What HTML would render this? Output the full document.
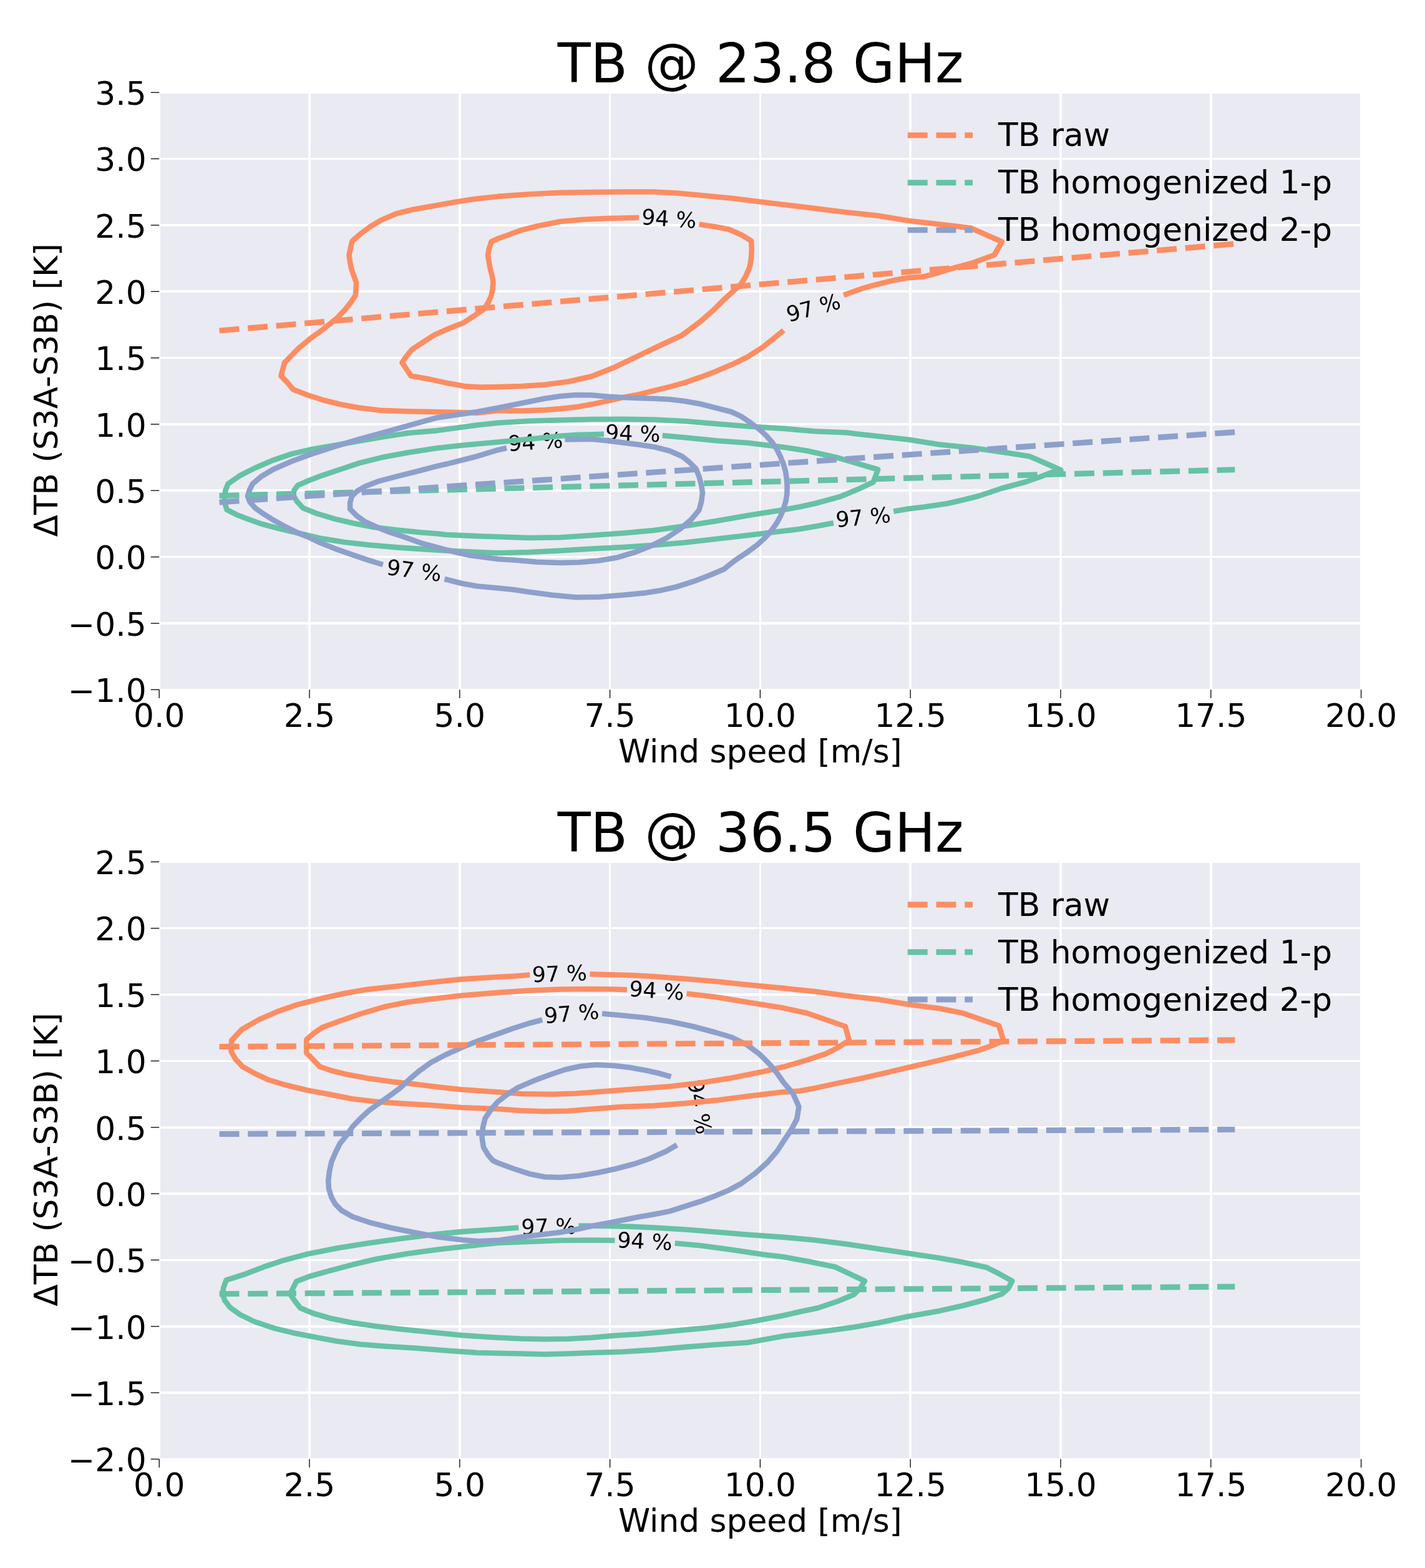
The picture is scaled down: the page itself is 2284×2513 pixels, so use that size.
<!DOCTYPE html>
<html lang="en">
<head>
<meta charset="utf-8">
<title>TB vs wind speed</title>
<style>
html,body{margin:0;padding:0;background:#fff;}
body{width:2284px;height:2513px;overflow:hidden;}
svg{display:block;}
text{font-family:"DejaVu Sans","Liberation Sans",sans-serif;fill:#000;}
.t{font-size:51.8px;}
.h{font-size:86.7px;letter-spacing:-0.15px;}
.c{font-size:34.7px;}
.ct{fill:none;stroke-width:8.60;stroke-linejoin:round;stroke-linecap:butt;}
.d{fill:none;stroke-width:9.10;stroke-dasharray:31.9 13.8;}
.g{stroke:#fff;stroke-width:3.50;shape-rendering:crispEdges;}
.k{stroke:#000;stroke-width:1.3;}
</style>
</head>
<body>
<svg xmlns="http://www.w3.org/2000/svg" width="2284" height="2513" viewBox="0 0 2284 2513">
<rect x="0" y="0" width="2284" height="2513" fill="#fff"/>
<g id="plot1">
<rect x="255.2" y="148.2" width="1926.3" height="957.1" fill="#eaeaf2"/>
<line class="g" x1="255.2" y1="148.2" x2="255.2" y2="1105.3"/>
<line class="g" x1="496.0" y1="148.2" x2="496.0" y2="1105.3"/>
<line class="g" x1="736.8" y1="148.2" x2="736.8" y2="1105.3"/>
<line class="g" x1="977.6" y1="148.2" x2="977.6" y2="1105.3"/>
<line class="g" x1="1218.4" y1="148.2" x2="1218.4" y2="1105.3"/>
<line class="g" x1="1459.2" y1="148.2" x2="1459.2" y2="1105.3"/>
<line class="g" x1="1700.0" y1="148.2" x2="1700.0" y2="1105.3"/>
<line class="g" x1="1940.8" y1="148.2" x2="1940.8" y2="1105.3"/>
<line class="g" x1="2181.6" y1="148.2" x2="2181.6" y2="1105.3"/>
<line class="g" x1="255.2" y1="1105.3" x2="2181.6" y2="1105.3"/>
<line class="g" x1="255.2" y1="999.0" x2="2181.6" y2="999.0"/>
<line class="g" x1="255.2" y1="892.6" x2="2181.6" y2="892.6"/>
<line class="g" x1="255.2" y1="786.2" x2="2181.6" y2="786.2"/>
<line class="g" x1="255.2" y1="679.9" x2="2181.6" y2="679.9"/>
<line class="g" x1="255.2" y1="573.6" x2="2181.6" y2="573.6"/>
<line class="g" x1="255.2" y1="467.2" x2="2181.6" y2="467.2"/>
<line class="g" x1="255.2" y1="360.9" x2="2181.6" y2="360.9"/>
<line class="g" x1="255.2" y1="254.5" x2="2181.6" y2="254.5"/>
<line class="g" x1="255.2" y1="148.2" x2="2181.6" y2="148.2"/>
<line class="k" x1="255.2" y1="1105.3" x2="255.2" y2="1118.9"/>
<text class="t" x="255.2" y="1164.5" text-anchor="middle">0.0</text>
<line class="k" x1="496.0" y1="1105.3" x2="496.0" y2="1118.9"/>
<text class="t" x="496.0" y="1164.5" text-anchor="middle">2.5</text>
<line class="k" x1="736.8" y1="1105.3" x2="736.8" y2="1118.9"/>
<text class="t" x="736.8" y="1164.5" text-anchor="middle">5.0</text>
<line class="k" x1="977.6" y1="1105.3" x2="977.6" y2="1118.9"/>
<text class="t" x="977.6" y="1164.5" text-anchor="middle">7.5</text>
<line class="k" x1="1218.4" y1="1105.3" x2="1218.4" y2="1118.9"/>
<text class="t" x="1218.4" y="1164.5" text-anchor="middle">10.0</text>
<line class="k" x1="1459.2" y1="1105.3" x2="1459.2" y2="1118.9"/>
<text class="t" x="1459.2" y="1164.5" text-anchor="middle">12.5</text>
<line class="k" x1="1700.0" y1="1105.3" x2="1700.0" y2="1118.9"/>
<text class="t" x="1700.0" y="1164.5" text-anchor="middle">15.0</text>
<line class="k" x1="1940.8" y1="1105.3" x2="1940.8" y2="1118.9"/>
<text class="t" x="1940.8" y="1164.5" text-anchor="middle">17.5</text>
<line class="k" x1="2181.6" y1="1105.3" x2="2181.6" y2="1118.9"/>
<text class="t" x="2181.6" y="1164.5" text-anchor="middle">20.0</text>
<line class="k" x1="241.7" y1="1105.3" x2="255.2" y2="1105.3"/>
<text class="t" x="234.6" y="1125.0" text-anchor="end">−1.0</text>
<line class="k" x1="241.7" y1="999.0" x2="255.2" y2="999.0"/>
<text class="t" x="234.6" y="1018.7" text-anchor="end">−0.5</text>
<line class="k" x1="241.7" y1="892.6" x2="255.2" y2="892.6"/>
<text class="t" x="234.6" y="912.3" text-anchor="end">0.0</text>
<line class="k" x1="241.7" y1="786.2" x2="255.2" y2="786.2"/>
<text class="t" x="234.6" y="806.0" text-anchor="end">0.5</text>
<line class="k" x1="241.7" y1="679.9" x2="255.2" y2="679.9"/>
<text class="t" x="234.6" y="699.6" text-anchor="end">1.0</text>
<line class="k" x1="241.7" y1="573.6" x2="255.2" y2="573.6"/>
<text class="t" x="234.6" y="593.3" text-anchor="end">1.5</text>
<line class="k" x1="241.7" y1="467.2" x2="255.2" y2="467.2"/>
<text class="t" x="234.6" y="486.9" text-anchor="end">2.0</text>
<line class="k" x1="241.7" y1="360.9" x2="255.2" y2="360.9"/>
<text class="t" x="234.6" y="380.6" text-anchor="end">2.5</text>
<line class="k" x1="241.7" y1="254.5" x2="255.2" y2="254.5"/>
<text class="t" x="234.6" y="274.2" text-anchor="end">3.0</text>
<line class="k" x1="241.7" y1="148.2" x2="255.2" y2="148.2"/>
<text class="t" x="234.6" y="167.9" text-anchor="end">3.5</text>
<text class="t" x="1218.4" y="1221.5" text-anchor="middle">Wind speed [m/s]</text>
<text class="t" transform="translate(91.5 625.2) rotate(-90)" text-anchor="middle">ΔTB (S3A-S3B) [K]</text>
<text class="h" x="1219.0" y="131.6" text-anchor="middle">TB @ 23.8 GHz</text>
<text class="c" transform="translate(1072.3 350.0) rotate(4.0)" text-anchor="middle" y="12.7">94 %</text>
<text class="c" transform="translate(1303.5 492.8) rotate(-15.0)" text-anchor="middle" y="12.7">97 %</text>
<text class="c" transform="translate(1014.3 693.8) rotate(2.0)" text-anchor="middle" y="12.7">94 %</text>
<text class="c" transform="translate(858.0 707.5) rotate(-4.0)" text-anchor="middle" y="12.7">94 %</text>
<text class="c" transform="translate(1383.5 828.5) rotate(-5.5)" text-anchor="middle" y="12.7">97 %</text>
<text class="c" transform="translate(663.8 913.8) rotate(7.5)" text-anchor="middle" y="12.7">97 %</text>
<path class="ct" stroke="#fc8d62" d="M1352.2 473.0 L1381.0 462.7 L1406.0 455.7 L1431.0 449.6 L1456.0 445.1 L1481.0 443.4 L1506.0 436.5 L1531.0 428.8 L1556.0 422.2 L1593.5 408.8 L1606.0 387.5 L1556.0 365.5 L1506.0 359.5 L1456.0 353.8 L1406.0 345.5 L1356.0 340.2 L1306.0 334.0 L1256.0 328.0 L1223.0 324.1 L1173.0 317.7 L1123.0 313.0 L1085.5 309.5 L1048.0 307.5 L998.0 307.5 L948.0 308.0 L898.0 308.8 L848.0 311.2 L798.0 314.9 L762.5 318.8 L730.0 323.8 L695.0 330.0 L662.5 335.7 L635.0 342.5 L611.2 352.6 L592.5 363.8 L577.5 375.2 L564.5 386.6 L561.8 397.5 L559.5 409.2 L561.0 420.0 L563.0 430.0 L567.0 441.8 L571.0 452.5 L570.5 463.8 L570.0 473.0 L563.0 483.8 L552.5 497.0 L540.0 510.0 L520.0 526.2 L497.5 542.5 L478.8 558.0 L467.5 569.5 L456.2 581.2 L453.2 592.0 L450.5 602.5 L460.0 612.5 L470.0 624.2 L492.5 633.0 L520.0 641.8 L547.5 648.5 L575.0 653.5 L610.0 657.8 L652.5 659.3 L690.0 660.0 L727.5 660.8 L765.0 661.8 L798.0 657.9 L835.5 658.5 L873.0 657.1 L898.0 655.1 L923.0 652.4 L948.0 648.1 L973.0 642.7 L998.0 637.1 L1023.0 632.5 L1048.0 626.2 L1073.0 620.1 L1098.0 613.1 L1123.0 604.4 L1148.0 594.9 L1173.0 584.3 L1198.0 572.2 L1223.0 556.1 L1243.0 540.1 L1256.0 529.5"/>
<path class="ct" stroke="#fc8d62" d="M1024.2 348.8 L973.0 350.0 L935.5 351.8 L898.0 355.0 L860.5 362.5 L835.5 368.8 L815.5 376.2 L798.0 382.5 L787.5 387.5 L783.8 398.8 L782.0 409.2 L783.8 420.0 L786.2 432.5 L788.8 442.5 L790.5 452.5 L789.5 463.8 L787.5 473.8 L783.0 483.8 L776.2 495.0 L760.0 506.2 L742.5 517.5 L720.0 526.2 L695.0 537.5 L677.5 548.8 L660.5 560.0 L651.2 571.2 L644.5 581.2 L651.2 591.2 L658.8 602.5 L690.0 608.1 L720.0 614.6 L745.0 619.1 L770.0 620.6 L798.0 620.1 L835.5 619.0 L873.0 616.6 L910.5 611.7 L948.0 603.3 L985.5 588.4 L1023.0 570.4 L1060.5 552.5 L1093.0 537.5 L1123.0 515.0 L1143.0 497.5 L1158.0 482.5 L1173.0 468.8 L1188.0 455.0 L1195.5 442.5 L1201.8 427.5 L1204.2 412.5 L1204.8 400.0 L1204.2 386.2 L1188.0 376.2 L1168.0 367.5 L1148.0 363.8 L1120.5 359.5"/>
<path class="ct" stroke="#66c2a5" d="M1432.2 819.5 L1456.0 815.5 L1481.0 812.5 L1518.5 807.0 L1543.5 801.2 L1568.5 795.0 L1606.0 782.5 L1643.5 772.5 L1668.5 763.8 L1686.0 757.0 L1700.5 753.5 L1676.0 742.5 L1649.8 731.2 L1606.0 724.5 L1556.0 717.5 L1506.0 712.5 L1456.0 704.6 L1376.0 695.7 L1356.0 693.2 L1306.0 691.2 L1256.0 686.9 L1198.0 683.2 L1148.0 679.2 L1098.0 675.0 L1048.0 672.5 L998.0 671.8 L948.0 672.0 L898.0 673.2 L848.0 674.8 L798.0 677.8 L765.0 681.2 L715.0 687.9 L700.0 690.1 L654.4 694.0 L615.1 699.9 L575.8 706.8 L536.5 713.7 L497.2 720.6 L467.7 727.4 L438.3 737.3 L408.8 750.0 L385.2 761.8 L365.5 775.6 L361.6 785.4 L359.7 795.2 L360.6 807.0 L363.6 816.9 L379.3 824.9 L399.0 832.5 L418.6 839.5 L448.1 847.3 L477.6 854.2 L515.0 863.1 L552.5 869.1 L590.0 873.2 L640.0 877.6 L690.0 880.9 L740.0 883.9 L798.0 886.2 L848.0 885.0 L898.0 882.5 L948.0 879.5 L998.0 877.0 L1048.0 873.8 L1098.0 869.5 L1148.0 863.8 L1198.0 858.0 L1256.0 851.0 L1281.0 848.0 L1306.0 843.8 L1336.0 838.2"/>
<path class="ct" stroke="#66c2a5" d="M1061.8 698.0 L1098.0 701.2 L1148.0 706.2 L1198.0 709.8 L1256.0 716.7 L1293.5 722.5 L1343.5 733.8 L1368.5 741.2 L1407.2 752.5 L1399.8 772.5 L1376.0 783.8 L1346.0 796.2 L1306.0 807.0 L1281.0 812.5 L1256.0 817.0 L1198.0 826.2 L1148.0 835.0 L1098.0 843.0 L1048.0 850.0 L998.0 854.5 L948.0 858.0 L898.0 861.2 L848.0 862.0 L798.0 860.2 L765.0 859.2 L715.0 857.0 L700.0 855.2 L674.1 853.2 L634.8 849.3 L595.5 844.4 L566.0 838.5 L536.5 831.6 L507.0 822.8 L485.4 813.9 L475.6 803.1 L469.7 793.3 L471.7 785.4 L477.6 777.6 L493.3 770.7 L516.9 761.8 L546.3 752.0 L575.8 742.2 L615.1 732.4 L654.4 725.3 L700.0 718.3 L740.0 713.8 L798.0 708.5 L848.0 703.8 L898.0 698.8 L923.0 697.0 L968.0 695.8"/>
<path class="ct" stroke="#8da0cb" d="M712.5 928.0 L740.0 935.0 L765.0 939.5 L798.0 942.5 L823.0 945.0 L848.0 948.8 L885.5 953.8 L923.0 957.3 L960.5 956.8 L998.0 953.8 L1035.5 950.1 L1060.5 945.9 L1085.5 940.2 L1110.5 932.2 L1135.5 922.8 L1160.5 912.2 L1175.7 900.0 L1185.2 893.3 L1199.5 883.8 L1213.8 873.1 L1225.7 862.4 L1236.4 850.5 L1244.8 838.6 L1251.3 826.7 L1256.1 814.8 L1259.6 802.9 L1261.4 791.0 L1261.7 779.0 L1260.8 767.1 L1259.0 755.2 L1255.5 743.3 L1250.7 731.4 L1244.8 719.5 L1237.6 708.8 L1228.1 698.1 L1216.2 687.4 L1201.9 676.7 L1187.6 667.1 L1172.1 660.0 L1148.0 653.8 L1123.0 647.5 L1098.0 643.0 L1073.0 640.0 L1048.0 638.8 L1023.0 638.0 L998.0 637.0 L973.0 635.5 L948.0 633.2 L923.0 633.0 L898.0 635.0 L873.0 638.8 L835.5 646.2 L798.0 653.8 L765.0 660.0 L727.5 665.4 L700.0 669.5 L654.4 682.2 L615.1 693.1 L575.8 703.9 L536.5 715.7 L497.2 728.4 L467.7 739.2 L438.3 752.0 L418.6 763.8 L404.8 775.6 L399.9 785.4 L397.0 795.2 L400.9 805.1 L408.8 813.9 L422.5 823.7 L438.3 833.6 L457.9 844.4 L477.6 854.2 L497.2 862.1 L510.0 868.5 L540.0 880.4 L565.0 889.1 L590.0 897.6 L613.8 905.0"/>
<path class="ct" stroke="#8da0cb" d="M905.5 704.5 L948.0 703.8 L973.0 706.2 L1023.0 712.5 L1048.0 716.2 L1073.0 722.5 L1093.0 731.2 L1105.5 741.2 L1115.5 751.2 L1120.5 763.8 L1124.2 777.5 L1126.0 790.0 L1124.2 803.8 L1120.5 817.5 L1108.0 832.5 L1090.5 847.5 L1068.0 862.5 L1043.0 875.0 L1018.0 885.0 L988.0 893.8 L958.0 898.8 L928.0 901.2 L898.0 902.0 L860.5 900.8 L823.0 897.5 L798.0 896.0 L752.5 890.0 L715.0 881.2 L677.5 871.2 L646.6 860.1 L624.9 853.2 L605.3 845.3 L585.6 836.5 L571.9 826.7 L561.1 815.9 L561.1 805.1 L564.0 795.2 L571.9 787.4 L585.6 779.5 L605.3 771.7 L634.8 763.8 L674.1 754.0 L700.0 747.1 L715.0 743.8 L765.0 731.2 L798.0 721.2 L812.0 718.0"/>
<path class="d" stroke="#fc8d62" d="M351.6 530.0 L1979.3 390.8"/>
<path class="d" stroke="#66c2a5" d="M351.6 794.5 L1979.3 752.8"/>
<path class="d" stroke="#8da0cb" d="M351.6 805.0 L1979.3 692.6"/>
<path class="d" stroke="#fc8d62" d="M1454.8 216.8 L1559.0 216.8"/>
<text class="t" x="1600.0" y="234.4">TB raw</text>
<path class="d" stroke="#66c2a5" d="M1454.8 292.8 L1559.0 292.8"/>
<text class="t" x="1600.0" y="310.4">TB homogenized 1-p</text>
<path class="d" stroke="#8da0cb" d="M1454.8 368.8 L1559.0 368.8"/>
<text class="t" x="1600.0" y="386.4">TB homogenized 2-p</text>
</g>
<g id="plot2">
<rect x="255.2" y="1381.3" width="1926.3" height="957.2" fill="#eaeaf2"/>
<line class="g" x1="255.2" y1="1381.3" x2="255.2" y2="2338.5"/>
<line class="g" x1="496.0" y1="1381.3" x2="496.0" y2="2338.5"/>
<line class="g" x1="736.8" y1="1381.3" x2="736.8" y2="2338.5"/>
<line class="g" x1="977.6" y1="1381.3" x2="977.6" y2="2338.5"/>
<line class="g" x1="1218.4" y1="1381.3" x2="1218.4" y2="2338.5"/>
<line class="g" x1="1459.2" y1="1381.3" x2="1459.2" y2="2338.5"/>
<line class="g" x1="1700.0" y1="1381.3" x2="1700.0" y2="2338.5"/>
<line class="g" x1="1940.8" y1="1381.3" x2="1940.8" y2="2338.5"/>
<line class="g" x1="2181.6" y1="1381.3" x2="2181.6" y2="2338.5"/>
<line class="g" x1="255.2" y1="2338.5" x2="2181.6" y2="2338.5"/>
<line class="g" x1="255.2" y1="2232.1" x2="2181.6" y2="2232.1"/>
<line class="g" x1="255.2" y1="2125.8" x2="2181.6" y2="2125.8"/>
<line class="g" x1="255.2" y1="2019.4" x2="2181.6" y2="2019.4"/>
<line class="g" x1="255.2" y1="1913.1" x2="2181.6" y2="1913.1"/>
<line class="g" x1="255.2" y1="1806.8" x2="2181.6" y2="1806.8"/>
<line class="g" x1="255.2" y1="1700.4" x2="2181.6" y2="1700.4"/>
<line class="g" x1="255.2" y1="1594.0" x2="2181.6" y2="1594.0"/>
<line class="g" x1="255.2" y1="1487.7" x2="2181.6" y2="1487.7"/>
<line class="g" x1="255.2" y1="1381.3" x2="2181.6" y2="1381.3"/>
<line class="k" x1="255.2" y1="2338.5" x2="255.2" y2="2352.1"/>
<text class="t" x="255.2" y="2397.7" text-anchor="middle">0.0</text>
<line class="k" x1="496.0" y1="2338.5" x2="496.0" y2="2352.1"/>
<text class="t" x="496.0" y="2397.7" text-anchor="middle">2.5</text>
<line class="k" x1="736.8" y1="2338.5" x2="736.8" y2="2352.1"/>
<text class="t" x="736.8" y="2397.7" text-anchor="middle">5.0</text>
<line class="k" x1="977.6" y1="2338.5" x2="977.6" y2="2352.1"/>
<text class="t" x="977.6" y="2397.7" text-anchor="middle">7.5</text>
<line class="k" x1="1218.4" y1="2338.5" x2="1218.4" y2="2352.1"/>
<text class="t" x="1218.4" y="2397.7" text-anchor="middle">10.0</text>
<line class="k" x1="1459.2" y1="2338.5" x2="1459.2" y2="2352.1"/>
<text class="t" x="1459.2" y="2397.7" text-anchor="middle">12.5</text>
<line class="k" x1="1700.0" y1="2338.5" x2="1700.0" y2="2352.1"/>
<text class="t" x="1700.0" y="2397.7" text-anchor="middle">15.0</text>
<line class="k" x1="1940.8" y1="2338.5" x2="1940.8" y2="2352.1"/>
<text class="t" x="1940.8" y="2397.7" text-anchor="middle">17.5</text>
<line class="k" x1="2181.6" y1="2338.5" x2="2181.6" y2="2352.1"/>
<text class="t" x="2181.6" y="2397.7" text-anchor="middle">20.0</text>
<line class="k" x1="241.7" y1="2338.5" x2="255.2" y2="2338.5"/>
<text class="t" x="234.6" y="2358.2" text-anchor="end">−2.0</text>
<line class="k" x1="241.7" y1="2232.1" x2="255.2" y2="2232.1"/>
<text class="t" x="234.6" y="2251.8" text-anchor="end">−1.5</text>
<line class="k" x1="241.7" y1="2125.8" x2="255.2" y2="2125.8"/>
<text class="t" x="234.6" y="2145.5" text-anchor="end">−1.0</text>
<line class="k" x1="241.7" y1="2019.4" x2="255.2" y2="2019.4"/>
<text class="t" x="234.6" y="2039.1" text-anchor="end">−0.5</text>
<line class="k" x1="241.7" y1="1913.1" x2="255.2" y2="1913.1"/>
<text class="t" x="234.6" y="1932.8" text-anchor="end">0.0</text>
<line class="k" x1="241.7" y1="1806.8" x2="255.2" y2="1806.8"/>
<text class="t" x="234.6" y="1826.5" text-anchor="end">0.5</text>
<line class="k" x1="241.7" y1="1700.4" x2="255.2" y2="1700.4"/>
<text class="t" x="234.6" y="1720.1" text-anchor="end">1.0</text>
<line class="k" x1="241.7" y1="1594.0" x2="255.2" y2="1594.0"/>
<text class="t" x="234.6" y="1613.8" text-anchor="end">1.5</text>
<line class="k" x1="241.7" y1="1487.7" x2="255.2" y2="1487.7"/>
<text class="t" x="234.6" y="1507.4" text-anchor="end">2.0</text>
<line class="k" x1="241.7" y1="1381.3" x2="255.2" y2="1381.3"/>
<text class="t" x="234.6" y="1401.0" text-anchor="end">2.5</text>
<text class="t" x="1218.4" y="2454.7" text-anchor="middle">Wind speed [m/s]</text>
<text class="t" transform="translate(91.5 1858.4) rotate(-90)" text-anchor="middle">ΔTB (S3A-S3B) [K]</text>
<text class="h" x="1219.0" y="1364.8" text-anchor="middle">TB @ 36.5 GHz</text>
<text class="c" transform="translate(896.8 1560.0) rotate(-2.0)" text-anchor="middle" y="12.7">97 %</text>
<text class="c" transform="translate(1052.5 1587.0) rotate(4.0)" text-anchor="middle" y="12.7">94 %</text>
<text class="c" transform="translate(916.0 1623.8) rotate(-5.0)" text-anchor="middle" y="12.7">97 %</text>
<text class="c" transform="translate(1121.8 1773.8) rotate(80.0)" text-anchor="middle" y="12.7">94 %</text>
<text class="c" transform="translate(879.3 1965.5) rotate(-1.0)" text-anchor="middle" y="12.7">97 %</text>
<text class="c" transform="translate(1033.5 1988.8) rotate(3.0)" text-anchor="middle" y="12.7">94 %</text>
<path class="ct" stroke="#fc8d62" d="M945.5 1561.2 L973.0 1562.0 L1010.5 1563.0 L1048.0 1565.0 L1098.0 1568.8 L1148.0 1573.0 L1198.0 1578.2 L1256.0 1583.9 L1306.0 1589.0 L1356.0 1595.7 L1406.0 1601.6 L1456.0 1609.7 L1506.0 1616.2 L1543.5 1623.8 L1568.5 1632.5 L1601.0 1643.8 L1608.5 1668.0 L1588.5 1676.2 L1568.5 1683.4 L1531.0 1693.2 L1493.5 1702.1 L1456.0 1710.7 L1418.5 1719.6 L1381.0 1728.3 L1343.5 1735.9 L1306.0 1743.9 L1281.0 1748.5 L1256.0 1750.1 L1198.0 1757.1 L1148.0 1763.4 L1098.0 1768.4 L1048.0 1772.1 L998.0 1773.8 L948.0 1777.5 L910.5 1780.5 L873.0 1781.2 L835.5 1780.0 L798.0 1777.3 L740.0 1775.0 L690.0 1771.2 L640.0 1768.4 L602.5 1765.5 L565.0 1761.2 L527.5 1753.8 L490.0 1746.8 L457.5 1738.8 L430.0 1730.5 L410.0 1721.2 L388.8 1709.5 L377.5 1697.5 L370.5 1685.0 L371.2 1667.5 L387.5 1650.0 L415.0 1634.1 L445.0 1621.1 L477.5 1609.8 L515.0 1600.3 L552.5 1592.0 L590.0 1585.6 L640.0 1580.2 L690.0 1574.5 L740.0 1569.4 L798.0 1565.8 L823.0 1564.5 L849.2 1562.5"/>
<path class="ct" stroke="#fc8d62" d="M1100.5 1592.5 L1148.0 1598.0 L1198.0 1606.2 L1256.0 1615.6 L1293.5 1623.8 L1326.0 1635.0 L1354.8 1645.0 L1361.0 1667.5 L1341.0 1680.0 L1323.5 1688.8 L1293.5 1698.8 L1256.0 1709.8 L1223.0 1717.5 L1173.0 1727.5 L1123.0 1735.5 L1073.0 1741.2 L1023.0 1745.0 L973.0 1748.8 L923.0 1752.5 L885.5 1753.8 L835.5 1753.0 L798.0 1750.3 L740.0 1746.2 L702.5 1742.2 L665.0 1737.5 L627.5 1733.6 L590.0 1728.3 L552.5 1721.2 L530.0 1715.5 L512.5 1709.5 L500.0 1696.2 L491.2 1687.5 L491.2 1666.2 L502.5 1656.2 L517.5 1646.2 L545.0 1636.2 L577.5 1625.0 L615.0 1613.8 L652.5 1606.2 L690.0 1601.2 L740.0 1595.5 L798.0 1590.9 L848.0 1587.5 L898.0 1585.5 L948.0 1585.0 L985.5 1585.5 L1005.0 1586.2"/>
<path class="ct" stroke="#66c2a5" d="M927.5 1964.5 L973.0 1965.0 L1010.5 1965.8 L1048.0 1967.5 L1098.0 1970.5 L1148.0 1974.5 L1198.0 1978.8 L1256.0 1982.9 L1306.0 1987.5 L1356.0 1993.8 L1406.0 2001.2 L1456.0 2008.8 L1506.0 2016.2 L1543.5 2023.0 L1581.0 2031.2 L1601.0 2041.2 L1622.2 2053.0 L1616.0 2065.0 L1606.0 2073.8 L1581.0 2082.5 L1543.5 2092.5 L1506.0 2100.9 L1456.0 2109.7 L1406.0 2120.5 L1368.5 2127.1 L1331.0 2132.2 L1293.5 2136.9 L1256.0 2141.3 L1223.0 2147.3 L1198.0 2151.8 L1148.0 2155.0 L1098.0 2158.9 L1048.0 2163.4 L998.0 2166.5 L948.0 2168.0 L910.5 2169.5 L873.0 2170.5 L835.5 2169.5 L798.0 2168.8 L765.0 2168.0 L715.0 2164.5 L665.0 2160.5 L615.0 2157.5 L577.5 2154.5 L540.0 2149.5 L502.5 2142.5 L470.0 2136.2 L440.0 2128.8 L407.5 2118.0 L385.0 2107.0 L368.8 2095.5 L360.0 2083.8 L356.5 2073.5 L358.5 2063.0 L362.6 2051.7 L390.2 2042.9 L422.9 2030.4 L453.0 2020.3 L490.6 2010.3 L540.9 2000.3 L591.1 1992.2 L641.3 1985.2 L691.5 1978.9 L741.7 1973.9 L798.0 1970.0 L831.2 1967.5"/>
<path class="ct" stroke="#66c2a5" d="M1081.8 1992.5 L1123.0 1996.2 L1173.0 2003.0 L1223.0 2010.5 L1256.0 2014.6 L1293.5 2021.2 L1338.5 2030.5 L1361.0 2041.2 L1386.0 2053.0 L1378.5 2065.0 L1368.5 2074.7 L1343.5 2085.3 L1311.0 2096.3 L1281.0 2102.5 L1256.0 2108.2 L1210.5 2117.0 L1173.0 2123.2 L1135.5 2128.0 L1098.0 2131.4 L1060.5 2135.0 L1023.0 2138.2 L985.5 2140.5 L948.0 2143.8 L910.5 2145.8 L873.0 2146.2 L835.5 2145.5 L798.0 2143.8 L740.0 2140.0 L690.0 2135.0 L640.0 2130.0 L602.5 2125.5 L565.0 2120.0 L530.0 2113.0 L502.5 2105.0 L481.2 2096.2 L472.5 2085.0 L465.0 2073.8 L470.0 2063.8 L475.0 2053.8 L495.0 2046.0 L527.5 2036.8 L565.0 2026.8 L602.5 2018.0 L652.5 2009.2 L702.5 2002.5 L752.5 1996.8 L798.0 1991.9 L848.0 1990.0 L898.0 1988.0 L948.0 1987.5 L985.5 1988.0"/>
<path class="ct" stroke="#8da0cb" d="M965.0 1624.5 L998.0 1627.5 L1035.5 1631.2 L1073.0 1637.0 L1110.5 1645.0 L1148.0 1655.0 L1173.0 1662.5 L1198.0 1675.0 L1218.0 1690.0 L1233.0 1705.0 L1245.5 1720.0 L1256.0 1735.0 L1271.0 1752.5 L1280.5 1773.8 L1277.2 1793.8 L1268.5 1810.0 L1256.0 1828.8 L1245.5 1845.0 L1230.5 1862.5 L1210.5 1880.4 L1188.0 1896.9 L1168.0 1907.6 L1148.0 1915.9 L1123.0 1925.4 L1098.0 1933.4 L1073.0 1941.4 L1048.0 1946.2 L1023.0 1950.5 L998.0 1955.5 L973.0 1960.5 L948.0 1965.0 L923.0 1970.5 L898.0 1975.0 L873.0 1978.0 L835.5 1982.5 L800.0 1987.7 L766.8 1989.2 L741.7 1987.2 L702.5 1982.5 L666.4 1975.7 L627.5 1968.0 L591.1 1958.8 L565.0 1950.0 L547.5 1940.0 L537.5 1930.0 L531.2 1918.8 L527.0 1905.0 L526.2 1892.5 L528.0 1877.5 L531.2 1862.5 L537.5 1847.5 L545.0 1832.5 L555.0 1820.2 L565.0 1805.9 L577.5 1792.7 L592.5 1778.9 L610.0 1766.4 L627.5 1753.9 L642.5 1742.7 L657.5 1728.6 L672.5 1715.9 L690.0 1703.3 L715.0 1690.0 L740.0 1678.8 L765.0 1668.8 L798.0 1656.9 L823.0 1648.0 L848.0 1640.0 L869.2 1634.5"/>
<path class="ct" stroke="#8da0cb" d="M1085.0 1835.0 L1068.0 1845.0 L1043.0 1856.2 L1018.0 1865.0 L988.0 1873.0 L958.0 1879.5 L928.0 1884.5 L898.0 1887.0 L873.0 1886.2 L848.0 1881.2 L823.0 1873.0 L798.0 1863.8 L790.0 1860.0 L782.5 1851.2 L775.0 1838.8 L772.5 1822.5 L773.8 1807.5 L777.5 1792.5 L787.5 1777.5 L798.0 1765.6 L813.0 1754.0 L830.5 1742.9 L855.5 1732.1 L880.5 1722.7 L905.5 1714.2 L930.5 1708.7 L955.5 1706.5 L985.5 1708.0 L1010.5 1711.1 L1035.5 1715.5 L1055.5 1720.0 L1075.5 1725.7"/>
<path class="d" stroke="#fc8d62" d="M351.6 1677.5 L1979.3 1666.9"/>
<path class="d" stroke="#66c2a5" d="M351.6 2073.8 L1979.3 2062.1"/>
<path class="d" stroke="#8da0cb" d="M351.6 1817.5 L1979.3 1810.2"/>
<path class="d" stroke="#fc8d62" d="M1454.8 1449.9 L1559.0 1449.9"/>
<text class="t" x="1600.0" y="1467.5">TB raw</text>
<path class="d" stroke="#66c2a5" d="M1454.8 1525.9 L1559.0 1525.9"/>
<text class="t" x="1600.0" y="1543.5">TB homogenized 1-p</text>
<path class="d" stroke="#8da0cb" d="M1454.8 1601.9 L1559.0 1601.9"/>
<text class="t" x="1600.0" y="1619.5">TB homogenized 2-p</text>
</g>
</svg>
</body>
</html>
